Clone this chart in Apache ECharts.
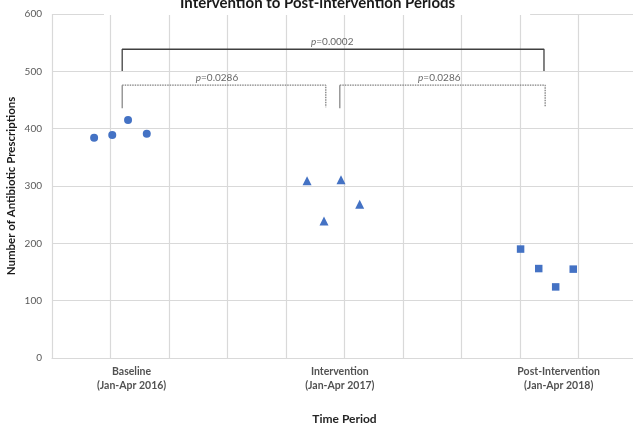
<!DOCTYPE html>
<html>
<head>
<meta charset="utf-8">
<script src="https://cdn.jsdelivr.net/npm/echarts@6/dist/echarts.min.js"></script>
<style>html,body{margin:0;padding:0;background:#fff}#c{width:633px;height:425px}</style>
</head>
<body>
<div id="c"></div>
<script>
// ---- data ----
const titleText = 'Intervention to Post-intervention Periods';
const xAxisName = 'Time Period';
const yAxisName = 'Number of Antibiotic Prescriptions';
const yTicks = [0, 100, 200, 300, 400, 500, 600];

const baselineX = [0.72, 1.03, 1.30, 1.62];
const baselineY = [384, 389, 415, 391];
const interventionX = [4.36, 4.65, 4.94, 5.26];
const interventionY = [309, 239, 311, 268];
const postX = [8.01, 8.32, 8.61, 8.91];
const postY = [190, 156, 124, 155];

const categoryLabels = ['Baseline\n(Jan-Apr 2016)', 'Intervention\n(Jan-Apr 2017)', 'Post-Intervention\n(Jan-Apr 2018)'];
const categoryLabelX = [1.36, 4.92, 8.66];

// significance brackets: [xLeft, xRight, yTop, yLegLeftBottom, yLegRightBottom]
const bracketAll = [1.20, 8.41, 538.5, 500.7, 500.7];
const bracket12 = [1.20, 4.68, 475.8, 435.7, 437.5];
const bracket23 = [4.92, 8.43, 475.8, 435.7, 437.5];
const pValues = ['0.0002', '0.0286', '0.0286'];
const pLabelX = [4.79, 2.82, 6.62];
const pLabelY = [538.5, 475.8, 475.8];

// ---- build ----
const zip = (xs, ys) => xs.map((x, i) => [x, ys[i]]);
const blue = '#4472C4';
const font = 'Lato, "Open Sans", sans-serif';

function lineSeries(pts, color, type, width) {
  return {
    type: 'line', data: pts, symbol: 'none', silent: true, z: 3,
    lineStyle: { color: color, width: width, type: type }, animation: false
  };
}

const series = [
  { name: 'Baseline', type: 'scatter', symbol: 'circle', symbolSize: 8, itemStyle: { color: blue, opacity: 1 }, data: zip(baselineX, baselineY) },
  { name: 'Intervention', type: 'scatter', symbol: 'triangle', symbolSize: 9, itemStyle: { color: blue, opacity: 1 }, data: zip(interventionX, interventionY) },
  { name: 'Post-Intervention', type: 'scatter', symbol: 'rect', symbolSize: 7.5, itemStyle: { color: blue, opacity: 1 }, data: zip(postX, postY) },
  // big bracket
  lineSeries([[bracketAll[0], bracketAll[3]], [bracketAll[0], bracketAll[2]], [bracketAll[1], bracketAll[2]], [bracketAll[1], bracketAll[4]]], '#404040', 'solid', 1.3),
];
[bracket12, bracket23].forEach(b => {
  series.push(lineSeries([[b[0], b[3]], [b[0], b[2]]], '#7f7f7f', 'solid', 1.2));
  series.push(lineSeries([[b[0], b[2]], [b[1], b[2]], [b[1], b[4]]], '#7f7f7f', [1.5, 1], 1.3));
});
// p-value labels
series.push({
  type: 'scatter', symbolSize: 0, silent: true, z: 4,
  data: pLabelX.map((x, i) => ({ value: [x, pLabelY[i]], label: { formatter: '{i|p}=' + pValues[i] } })),
  label: {
    show: true, position: 'top', distance: 2, color: '#404040', fontSize: 10, fontFamily: font,
    rich: { i: { fontStyle: 'italic', fontSize: 10, color: '#404040', fontFamily: font } }
  }
});
// category labels under the axis
series.push({
  type: 'scatter', symbolSize: 0, silent: true, clip: false,
  data: categoryLabelX.map((x, i) => ({ value: [x, 0], label: { formatter: categoryLabels[i] } })),
  label: { show: true, position: 'bottom', distance: 7, color: '#262626', fontSize: 10.5, fontWeight: 'bold', fontFamily: font, lineHeight: 13.5, align: 'center' }
});

const chart = echarts.init(document.getElementById('c'));
chart.setOption({
  animation: false,
  backgroundColor: '#fff',
  title: {
    text: titleText, left: 104, top: -4,
    padding: [0, 75, 4, 76], backgroundColor: '#fff',
    textStyle: { fontSize: 15, fontWeight: 'bold', color: '#1a1a1a', fontFamily: font }
  },
  grid: { left: 52, right: -4, top: 14, bottom: 67, containLabel: false, outerBoundsMode: 'none' },
  xAxis: {
    type: 'value', min: 0, max: 10, interval: 1,
    name: xAxisName, nameLocation: 'middle', nameGap: 55,
    nameTextStyle: { fontSize: 12, fontWeight: 'bold', color: '#262626', fontFamily: font },
    axisLine: { show: true, lineStyle: { color: '#d9d9d9', width: 1.2 } },
    axisTick: { show: false }, axisLabel: { show: false },
    splitLine: { show: true, lineStyle: { color: '#d9d9d9', width: 1.2 } }
  },
  yAxis: {
    type: 'value', min: yTicks[0], max: yTicks[yTicks.length - 1], interval: yTicks[1] - yTicks[0],
    name: yAxisName, nameLocation: 'middle', nameGap: 35, nameMoveOverlap: false,
    nameTextStyle: { fontSize: 11.5, fontWeight: 'bold', color: '#1a1a1a', fontFamily: font },
    axisLine: { show: false }, axisTick: { show: false },
    axisLabel: { color: '#595959', fontSize: 10, margin: 10, fontFamily: font },
    splitLine: { show: true, lineStyle: { color: '#d9d9d9', width: 1.2 } }
  },
  series: series
});
</script>
</body>
</html>
